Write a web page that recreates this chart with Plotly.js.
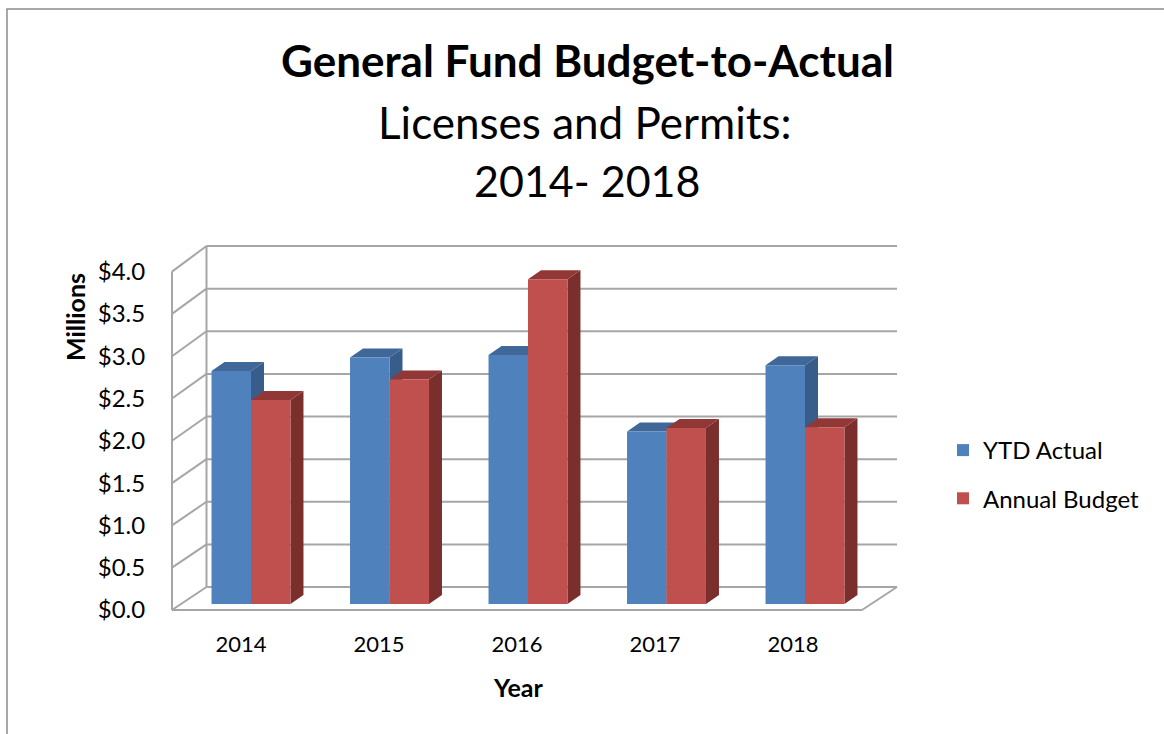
<!DOCTYPE html>
<html>
<head>
<meta charset="utf-8">
<script src="https://cdn.plot.ly/plotly-3.0.1.min.js"></script>
<style>html,body{margin:0;padding:0;background:#fff;}#chart{width:1164px;height:734px;}</style>
</head>
<body>
<div id="chart"></div>
<script>
// ---- data ----
const years = ['2014', '2015', '2016', '2017', '2018'];
const ytdActual = [2.74, 2.90, 2.93, 2.03, 2.81];
const annualBudget = [2.40, 2.64, 3.82, 2.07, 2.08];
const yTicks = [0, 0.5, 1.0, 1.5, 2.0, 2.5, 3.0, 3.5, 4.0];
const seriesNames = ['YTD Actual', 'Annual Budget'];

// ---- style / geometry ----
const W = 1164, H = 734;
const FONT = 'Lato, "Open Sans", sans-serif';
const px = x => x / W;
const py = y => 1 - y / H;
const colors = {
  front: ['#4F81BD', '#C0504D'],
  side: ['#385D8A', '#7A2F2D'],
  top: ['#3F6797', '#913836']
};
const bargap = 0.43;
const gridColor = '#A6A6A6';
// planes (pixel geometry of the 3D box)
const front = {x0: 172, x1: 862, y0: 610, k: 84.6};
const back = {x0: 206.5, x1: 897, y0: 587, k: 85.25};
const barPlane = {x0: 181.75, x1: 874.25, y0: 604, k: 85};
const yF = v => front.y0 - front.k * v;
const yB = v => back.y0 - back.k * v;
// bar depth in data units of the bar plane
const catPx = (barPlane.x1 - barPlane.x0) / years.length;
const dxD = 13 / catPx;
const dyD = 9 / barPlane.k;
const w = (1 - bargap) / 2;

const idx = years.map((_, i) => i);
const vals = [ytdActual, annualBudget];

const traces = [];
// 3D faces (base subplot, drawn beneath the front faces)
vals.forEach((arr, s) => {
  const sx = [], sy = [], tx = [], ty = [];
  arr.forEach((v, i) => {
    const l = i - (1 - bargap) / 2 + s * w;
    const r = l + w;
    sx.push(r, r, r + dxD, r + dxD, r, null);
    sy.push(0, v, v + dyD, dyD, 0, null);
    tx.push(l, r, r + dxD, l + dxD, l, null);
    ty.push(v, v, v + dyD, v + dyD, v, null);
  });
  traces.push({type: 'scatter', x: sx, y: sy, xaxis: 'x', yaxis: 'y', mode: 'lines',
    fill: 'toself', fillcolor: colors.side[s], line: {width: 0, color: colors.side[s]},
    hoverinfo: 'skip', showlegend: false});
  traces.push({type: 'scatter', x: tx, y: ty, xaxis: 'x', yaxis: 'y', mode: 'lines',
    fill: 'toself', fillcolor: colors.top[s], line: {width: 0, color: colors.top[s]},
    hoverinfo: 'skip', showlegend: false});
});
// front faces (overlay subplot)
vals.forEach((arr, s) => {
  traces.push({type: 'bar', x: idx, y: arr, name: seriesNames[s], xaxis: 'x2', yaxis: 'y2',
    marker: {color: colors.front[s], line: {width: 0}}, legendgroup: 'g' + s,
    hovertemplate: '%{y:$.2f}M<extra>' + seriesNames[s] + '</extra>'});
});

// walls & floor
const shapes = [];
const line = (x0, y0, x1, y1, c, wd) => shapes.push({type: 'line', xref: 'paper', yref: 'paper',
  x0: px(x0), y0: py(y0), x1: px(x1), y1: py(y1), layer: 'below', line: {color: c || gridColor, width: wd || 2}});
yTicks.forEach(v => {
  line(front.x0, yF(v), back.x0, yB(v));
  line(back.x0, yB(v), back.x1, yB(v));
});
const vmax = yTicks[yTicks.length - 1];
line(front.x0, yF(0), front.x0, yF(vmax));
line(back.x0, yB(0), back.x0, yB(vmax));
line(front.x0, yF(0), front.x1, yF(0));
line(front.x1, yF(0), back.x1, yB(0));
// chart border
shapes.push({type: 'rect', xref: 'paper', yref: 'paper', x0: px(7), y0: py(9), x1: px(1180), y1: py(750),
  line: {color: '#8C8C8C', width: 1.5}, layer: 'below'});

const barDomX = [px(barPlane.x0), px(barPlane.x1)];
const barDomY = [py(barPlane.y0), py(barPlane.y0 - barPlane.k * vmax)];
const hiddenAxis = {showgrid: false, zeroline: false, showline: false, showticklabels: false, ticks: ''};

const layout = {
  width: W, height: H, autosize: false,
  margin: {l: 0, r: 0, t: 0, b: 0, pad: 0},
  paper_bgcolor: '#fff', plot_bgcolor: 'rgba(0,0,0,0)',
  font: {family: FONT, color: '#000'},
  barmode: 'group', bargap: bargap, bargroupgap: 0,
  title: {text: '<b>General Fund Budget-to-Actual</b>', font: {family: FONT, size: 44, color: '#000'},
    x: px(587.5), xref: 'paper', xanchor: 'center', y: py(62), yref: 'paper', yanchor: 'middle'},
  xaxis: Object.assign({domain: barDomX, range: [-0.5, years.length - 0.5], anchor: 'y'}, hiddenAxis),
  yaxis: Object.assign({domain: barDomY, range: [0, vmax], anchor: 'x'}, hiddenAxis),
  xaxis2: Object.assign({domain: barDomX, range: [-0.5, years.length - 0.5], anchor: 'y2', overlaying: 'x'}, hiddenAxis),
  yaxis2: Object.assign({domain: barDomY, range: [0, vmax], anchor: 'x2', overlaying: 'y'}, hiddenAxis),
  xaxis3: {domain: [px(front.x0), px(front.x1)], range: [-0.5, years.length - 0.5], anchor: 'y3',
    tickvals: idx, ticktext: years, ticks: 'outside', ticklen: 15, tickcolor: 'rgba(0,0,0,0)',
    showgrid: false, zeroline: false, showline: false, tickfont: {family: FONT, size: 22, color: '#000'}},
  yaxis3: {domain: [py(front.y0), py(yF(vmax))], range: [0, vmax], anchor: 'x3',
    tickvals: yTicks, tickformat: '$.1f', ticks: 'outside', ticklen: 21, tickcolor: 'rgba(0,0,0,0)',
    showgrid: false, zeroline: false, showline: false, tickfont: {family: FONT, size: 24, color: '#000'}},
  legend: {x: px(943), y: py(428), xanchor: 'left', yanchor: 'top', xref: 'paper', yref: 'paper',
    font: {family: FONT, size: 24, color: '#000'}, tracegroupgap: 14, bgcolor: 'rgba(0,0,0,0)'},
  shapes: shapes,
  annotations: [
    {text: 'Licenses and Permits:', xref: 'paper', yref: 'paper', x: px(585), y: py(122),
      xanchor: 'center', yanchor: 'middle', showarrow: false, font: {family: FONT, size: 44, color: '#000'}},
    {text: '2014- 2018', xref: 'paper', yref: 'paper', x: px(587), y: py(180),
      xanchor: 'center', yanchor: 'middle', showarrow: false, font: {family: FONT, size: 43, color: '#000'}},
    {text: '<b>Year</b>', xref: 'paper', yref: 'paper', x: px(518), y: py(687),
      xanchor: 'center', yanchor: 'middle', showarrow: false, font: {family: FONT, size: 25, color: '#000'}},
    {text: '<b>Millions</b>', xref: 'paper', yref: 'paper', x: px(75), y: py(317), textangle: -90,
      xanchor: 'center', yanchor: 'middle', showarrow: false, font: {family: FONT, size: 25, color: '#000'}}
  ]
};

// dummy trace to make the front-plane axes render
traces.push({type: 'scatter', x: [null], y: [null], xaxis: 'x3', yaxis: 'y3', showlegend: false, hoverinfo: 'skip'});

Plotly.newPlot('chart', traces, layout, {displayModeBar: false});
</script>
</body>
</html>
